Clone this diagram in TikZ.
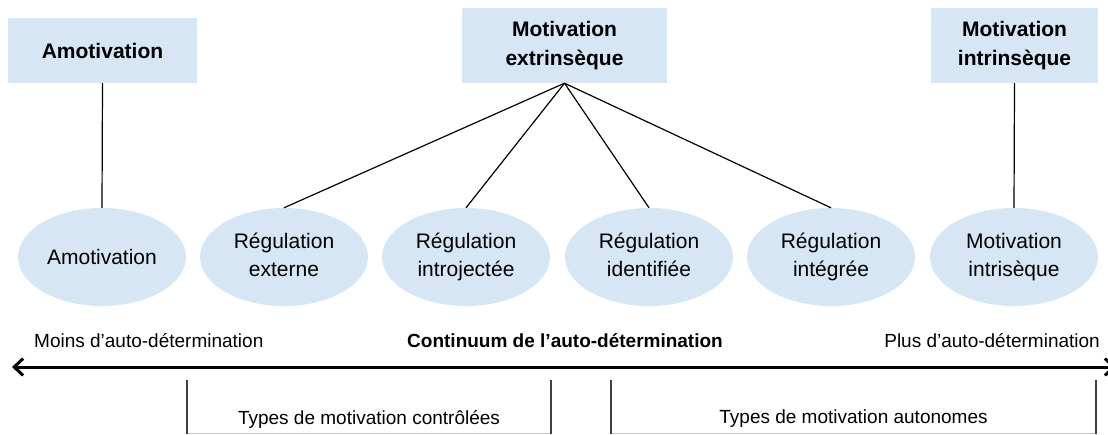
\documentclass[tikz,border=0pt]{standalone}
\usepackage{fontspec}
\setmainfont{Liberation Sans}
\usetikzlibrary{shapes.geometric,arrows.meta}
\definecolor{paleblue}{RGB}{214,230,244}
\newcommand{\duo}[2]{#1\strut\\#2\strut}

\begin{document}
\begin{tikzpicture}[x=1pt,y=-1pt,
  title/.style={fill=paleblue, inner sep=0pt, align=center,
    font=\fontsize{21}{29}\selectfont\bfseries},
  kind/.style={ellipse, fill=paleblue, minimum width=168pt, minimum height=98pt,
    inner sep=0pt, align=center, font=\fontsize{21}{28}\selectfont},
  link/.style={line width=1.2pt},
  note/.style={inner sep=0pt, font=\fontsize{19}{23}\selectfont},
  bracket/.style={line width=1.4pt, draw=black!75},
  barb/.style={{Straight Barb[length=9pt,width=17pt,line width=3pt]}-{Straight Barb[length=9pt,width=17pt,line width=3pt]}}]

\useasboundingbox (0,0) rectangle (1108,434);

%% top boxes
\node[title, minimum width=189pt, minimum height=65pt] (amobox) at (102.5,50.5) {Amotivation};
\node[title, minimum width=205pt, minimum height=75pt] (extbox) at (564.5,45.5) {\duo{Motivation}{extrinsèque}};
\node[title, minimum width=167pt, minimum height=75pt] (intbox) at (1014.5,45.5) {\duo{Motivation}{intrinsèque}};

%% ellipses
\node[kind] (amo)  at (102,257)  {Amotivation};
\node[kind] (rext) at (284,257)  {\duo{Régulation}{externe}};
\node[kind] (rint) at (466,257)  {\duo{Régulation}{introjectée}};
\node[kind] (rid)  at (649,257)  {\duo{Régulation}{identifiée}};
\node[kind] (rig)  at (831,257)  {\duo{Régulation}{intégrée}};
\node[kind] (mint) at (1014,257) {\duo{Motivation}{intrisèque}};

%% links
\draw[link] (amobox.south) -- (amo.north);
\draw[link] (extbox.south) -- (rext.north);
\draw[link] (extbox.south) -- (rint.north);
\draw[link] (extbox.south) -- (rid.north);
\draw[link] (extbox.south) -- (rig.north);
\draw[link] (intbox.south) -- (mint.north);

%% continuum
\node[note, anchor=west] (less) at (34,341) {Moins d’auto-détermination};
\node[note, font=\fontsize{19}{23}\selectfont\bfseries] (cont) at (565,341) {Continuum de l’auto-détermination};
\node[note, anchor=east] (more) at (1100,341) {Plus d’auto-détermination};
\coordinate (arrl) at (12,367);
\coordinate (arrr) at (1116,367);
\draw[barb, line width=3pt] (arrl) -- (arrr);

%% brackets
\coordinate (ctla) at (187,380);
\coordinate (ctlb) at (551,380);
\coordinate (auta) at (611,380);
\coordinate (autb) at (1096,380);
\draw[black!20, line width=1pt] (187,433) -- (551,433) (611,433) -- (1096,433);
\draw[bracket] (ctla) -- ++(0,54);
\draw[bracket] (ctlb) -- ++(0,54);
\draw[bracket] (auta) -- ++(0,54);
\draw[bracket] (autb) -- ++(0,54);
\node[note] (ctl) at (369,419) {Types de motivation contrôlées};
\node[note] (aut) at (853.5,419) {Types de motivation autonomes};
\end{tikzpicture}
\end{document}
